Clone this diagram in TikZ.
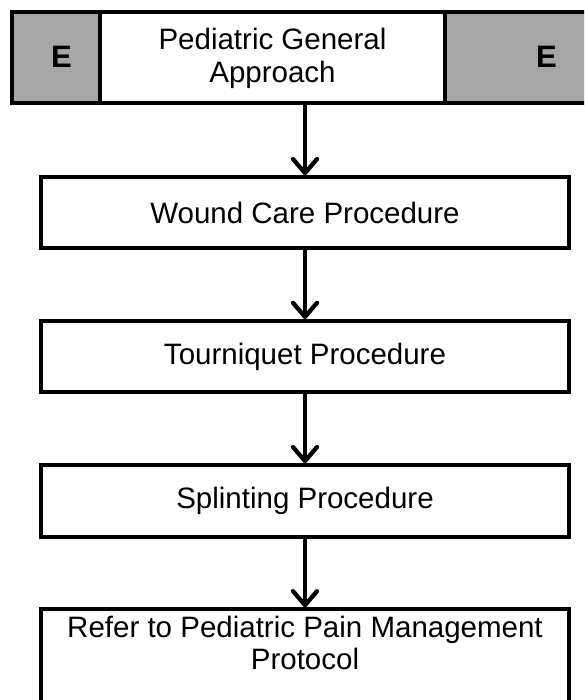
\documentclass[tikz,border=0pt]{standalone}
\usepackage{fontspec}
\setmainfont{Liberation Sans}
\usetikzlibrary{arrows.meta}
\definecolor{egray}{RGB}{166,166,166}
\begin{document}
\begin{tikzpicture}[x=1pt,y=-1pt,
  txtfont/.style={font=\fontsize{29.5}{32.5}\selectfont},
  box/.style={draw, line width=4pt, minimum width=528pt, minimum height=71pt,
    inner sep=0pt, txtfont, align=center, fill=white},
  topbox/.style={draw, line width=4pt, minimum height=91pt, inner sep=0pt},
  etext/.style={font=\fontsize{31}{32}\selectfont\bfseries, inner sep=0pt},
  flowtext/.style={txtfont, align=center, inner sep=0pt},
  arr/.style={line width=4.3pt, -{Straight Barb[length=14pt,width=24pt,line cap=round,line join=round]}}]
\clip (0,0) rectangle (584,700);
\fill[white] (0,0) rectangle (584,700);
% top row
\node[topbox, fill=egray, minimum width=87.7pt] (leftE) at (55.85,57.2) {};
\node[topbox, fill=white, minimum width=345.6pt] (main) at (272.5,57.2) {};
\node[topbox, fill=egray, minimum width=191.7pt] (rightE) at (541.15,57.2) {};
\node[etext] (eL) at (61.5,57) {E};
\node[etext] (eR) at (546.5,57) {E};
\node[flowtext] (maintext) at (272.5,58.5) {Pediatric General\\Approach};
% flow boxes
\node[box] (wound) at (305,212.7) {Wound Care Procedure};
\node[box] (tourn) at (305,356.5) {Tourniquet Procedure};
\node[box, minimum height=72pt] (splint) at (305,501.2) {Splinting Procedure};
\node[box, minimum height=150pt] (refer) at (305,684.3) {};
\node[flowtext] (refertext) at (305,643) {Refer to Pediatric Pain Management\\Protocol};
% arrows
\draw[arr] (wound.north |- main.south) -- (wound.north);
\draw[arr] (wound.south) -- (tourn.north);
\draw[arr] (tourn.south) -- (splint.north);
\draw[arr] (splint.south) -- (refer.north);
\end{tikzpicture}
\end{document}
